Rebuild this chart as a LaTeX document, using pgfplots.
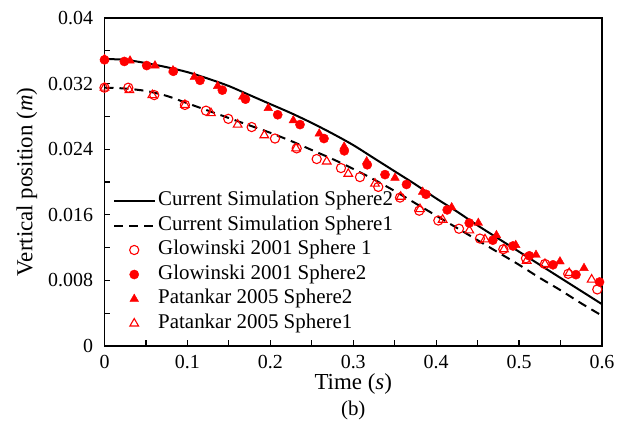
\documentclass[border=0pt]{standalone}
\usepackage{fontspec}
\setmainfont{Liberation Serif}
\usepackage{pgfplots}
\pgfplotsset{compat=1.18}
\begin{document}
\begin{tikzpicture}
\useasboundingbox (-104.5bp,-90bp) rectangle (512.5bp,346bp);
\begin{axis}[
  scale only axis, width=497.5bp, height=328bp,
  xmin=0, xmax=0.6, ymin=0, ymax=0.04,
  scaled y ticks=false, scaled x ticks=false,
  xtick={0,0.1,0.2,0.3,0.4,0.5,0.6},
  xticklabels={0,0.1,0.2,0.3,0.4,0.5,0.6},
  ytick={0,0.008,0.016,0.024,0.032,0.04},
  yticklabels={0,0.008,0.016,0.024,0.032,0.04},
  minor xtick={0.05,0.15,0.25,0.35,0.45,0.55},
  minor ytick={0.004,0.012,0.02,0.028,0.036},
  tick align=inside, xtick pos=bottom, ytick pos=left,
  major tick length=6bp, minor tick length=6bp,
  tick style={black, line width=1.2bp},
  axis line style={line width=1.5bp},
  ticklabel style={font=\fontsize{20}{23}\selectfont},
  xticklabel style={yshift=-6bp},
  yticklabel style={xshift=-8bp},
  xlabel={Time (\textit{s})},
  ylabel={Vertical position (\textit{m})},
  label style={font=\fontsize{23}{27}\selectfont},
  xlabel style={at={(axis description cs:0.5,-0.116)}, anchor=center},
  ylabel style={at={(axis description cs:-0.156,0.5)}, anchor=center},
  legend style={at={(axis cs:0.0103,0.0192)}, anchor=north west, draw=none, fill=none,
    inner sep=0pt, font=\fontsize{21}{25}\selectfont, row sep=0pt,
    nodes={inner sep=3bp, text height=14bp, text depth=4.5bp}},
  legend cell align=left,
  legend image code/.code={\draw[mark repeat=2,mark phase=2] plot coordinates {(0bp,0bp)(20bp,0bp)(40bp,0bp)};},
]
% Current Simulation Sphere2
\addplot[black, line width=2bp, smooth] coordinates {
(0,0.0350) (0.025,0.0349) (0.05,0.0345) (0.075,0.0340) (0.1,0.0334) (0.125,0.0326)
(0.15,0.0317) (0.175,0.0306) (0.2,0.0295) (0.225,0.0284) (0.25,0.0272) (0.275,0.0259)
(0.3,0.0245) (0.325,0.0229) (0.35,0.0213) (0.375,0.0197) (0.4,0.0180) (0.425,0.0164)
(0.45,0.0147) (0.475,0.0131) (0.5,0.0115) (0.525,0.0099) (0.55,0.0083) (0.575,0.0067) (0.6,0.0051)};
\addlegendentry{Current Simulation Sphere2}
% Current Simulation Sphere1
\addplot[black, line width=2bp, dash pattern=on 9bp off 6bp, smooth] coordinates {
(0,0.0315) (0.025,0.0314) (0.05,0.0311) (0.075,0.0305) (0.1,0.0296) (0.125,0.0287)
(0.15,0.0278) (0.175,0.0269) (0.2,0.0260) (0.225,0.0250) (0.25,0.0239) (0.275,0.0228)
(0.3,0.0216) (0.325,0.0203) (0.35,0.0189) (0.375,0.0174) (0.4,0.0159) (0.425,0.0144)
(0.45,0.0129) (0.475,0.0114) (0.5,0.0099) (0.525,0.0083) (0.55,0.0068) (0.575,0.0052) (0.6,0.0037)};
\addlegendentry{Current Simulation Sphere1}
% Glowinski 2001 Sphere 1
\addplot[only marks, mark=o, red, mark size=4.6bp, mark options={line width=1.1bp}] coordinates {
(0,0.0315) (0.0287,0.0315) (0.060,0.0306) (0.097,0.0294) (0.1224,0.0287) (0.1493,0.0277)
(0.1775,0.0267) (0.2056,0.0253) (0.2318,0.0241) (0.2559,0.0228) (0.2852,0.0217) (0.3081,0.0206)
(0.3302,0.0194) (0.3564,0.0181) (0.3796,0.0165) (0.4026,0.0153) (0.4275,0.0143) (0.4528,0.0131)
(0.481,0.0118) (0.5083,0.0107) (0.5312,0.0100) (0.5593,0.0088) (0.5943,0.0069)};
\addlegendentry{Glowinski 2001 Sphere 1}
% Glowinski 2001 Sphere2
\addplot[only marks, mark=*, red, mark size=4.6bp] coordinates {
(0,0.0349) (0.0239,0.0347) (0.0509,0.0342) (0.0830,0.0335) (0.1152,0.0324) (0.1421,0.0312)
(0.170,0.0301) (0.2089,0.0282) (0.2358,0.0270) (0.2647,0.0253) (0.2892,0.0238) (0.3169,0.0221)
(0.3383,0.0209) (0.3642,0.0197) (0.3877,0.0185) (0.4133,0.0166) (0.4399,0.0150) (0.4683,0.0129)
(0.4926,0.0122) (0.5123,0.0110) (0.5409,0.0099) (0.5686,0.0087) (0.597,0.0078)};
\addlegendentry{Glowinski 2001 Sphere2}
% Patankar 2005 Sphere2
\addplot[only marks, mark=triangle*, red, mark size=5bp] coordinates {
(0,0.0350) (0.0308,0.0348) (0.0609,0.0342) (0.0826,0.0336) (0.1083,0.0328) (0.1365,0.0317)
(0.1667,0.0304) (0.1975,0.0290) (0.2277,0.0275) (0.259,0.0259) (0.289,0.0243) (0.3162,0.0225)
(0.3503,0.0205) (0.3837,0.0188) (0.4187,0.0169) (0.4508,0.0150) (0.4727,0.0135) (0.4960,0.0123)
(0.5204,0.0111) (0.5493,0.0103) (0.5783,0.0095)};
\addlegendentry{Patankar 2005 Sphere2}
% Patankar 2005 Sphere1
\addplot[only marks, mark=triangle, red, mark size=5bp, mark options={line width=1.1bp}] coordinates {
(0,0.0315) (0.030,0.0312) (0.0577,0.0306) (0.097,0.0294) (0.1284,0.0284) (0.1606,0.0270)
(0.1927,0.0257) (0.231,0.0241) (0.268,0.0225) (0.294,0.0210) (0.3262,0.0198) (0.3572,0.0182)
(0.3805,0.0167) (0.4078,0.0154) (0.44,0.0141) (0.4589,0.0130) (0.4818,0.0118) (0.5091,0.0104)
(0.5312,0.0100) (0.5605,0.0089) (0.5875,0.0081)};
\addlegendentry{Patankar 2005 Sphere1}
\end{axis}
\node[font=\fontsize{21}{25}\selectfont] at (248.75bp,-64bp) {(b)};
\end{tikzpicture}
\end{document}
